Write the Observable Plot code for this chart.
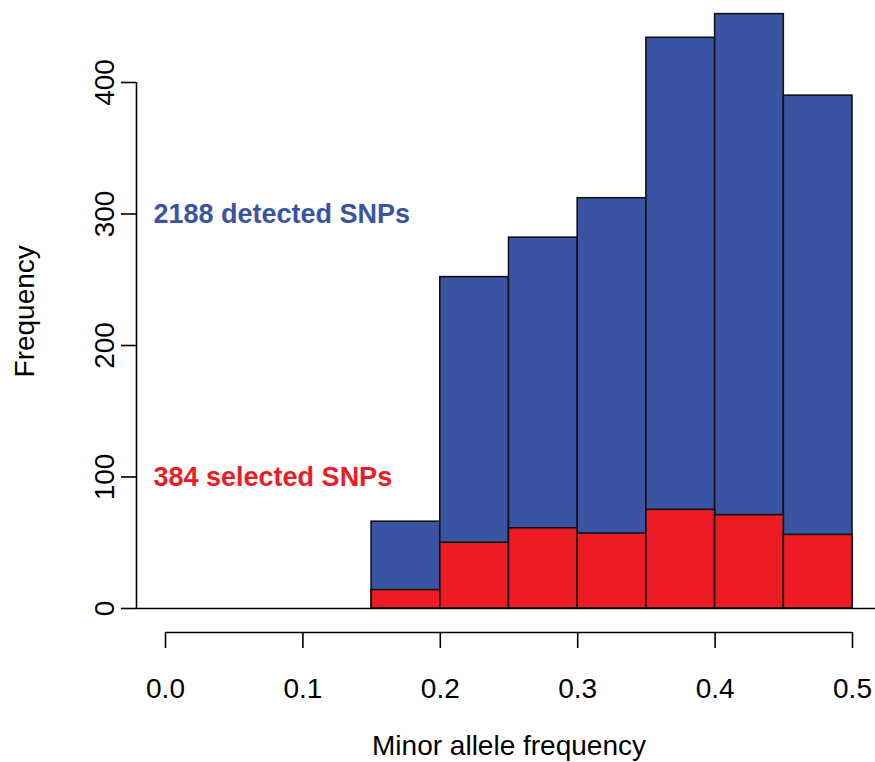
<!DOCTYPE html>
<html><head><meta charset="utf-8">
<script src="https://cdn.jsdelivr.net/npm/d3@7"></script>
<script src="https://cdn.jsdelivr.net/npm/@observablehq/plot@0.6"></script>
<style>body{margin:0;background:#fff}</style>
</head><body><div id="chart"></div>
<script>
const binStart = [0.15, 0.20, 0.25, 0.30, 0.35, 0.40, 0.45];
const binEnd   = [0.20, 0.25, 0.30, 0.35, 0.40, 0.45, 0.50];
const detected = [66, 252, 282, 312, 434, 452, 390];
const selected = [14, 50, 61, 57, 75, 71, 56];
const xTicks = [0, 0.1, 0.2, 0.3, 0.4, 0.5];
const yTicks = [0, 100, 200, 300, 400];
const annotations = ["2188 detected SNPs", "384 selected SNPs"];
const xLabel = "Minor allele frequency";
const yLabel = "Frequency";

const BLUE = "#3A54A4", RED = "#ED1C24";
const axisFont = '"Liberation Sans", Arial, Helvetica, sans-serif';
const boldFont = '"Liberation Sans", Arial, sans-serif';
const FS = 28;

const bins = binStart.map((s, i) => ({x1: s, x2: binEnd[i], detected: detected[i], selected: selected[i]}));

const chart = Plot.plot({
  width: 875, height: 762,
  marginTop: 82, marginBottom: 154, marginLeft: 165, marginRight: 23,
  style: {fontFamily: axisFont, fontSize: FS + "px", background: "#fff", color: "#000"},
  x: {domain: [0, 0.5]},
  y: {domain: [0, 400]},
  marks: [
    Plot.rectY(bins, {x1: "x1", x2: "x2", y: "detected", fill: BLUE, stroke: "#111", strokeWidth: 1.6}),
    Plot.rectY(bins, {x1: "x1", x2: "x2", y: "selected", fill: RED, stroke: "#111", strokeWidth: 1.6}),
    Plot.ruleY([yTicks[0]], {insetLeft: -29, insetRight: -40, stroke: "#000", strokeWidth: 1.6}),
    Plot.ruleX([xTicks[0]], {y1: yTicks[0], y2: yTicks[yTicks.length - 1], dx: -29, stroke: "#000", strokeWidth: 1.6}),
    Plot.axisY({ticks: yTicks, tickSize: 15, dx: -29, tickPadding: 8, tickRotate: -90, label: null, fontSize: FS, strokeWidth: 1.6}),
    Plot.ruleY([yTicks[0]], {x1: xTicks[0], x2: xTicks[xTicks.length - 1], dy: 24, stroke: "#000", strokeWidth: 1.6}),
    Plot.axisX({ticks: xTicks, tickSize: 16, dy: 24, tickPadding: 30, tickFormat: d3.format(".1f"), label: null, fontSize: FS, strokeWidth: 1.6}),
    Plot.text([xLabel], {x: (xTicks[0] + xTicks[xTicks.length - 1]) / 2, y: yTicks[0], dy: 138, fontSize: FS, fill: "#000"}),
    Plot.text([yLabel], {x: xTicks[0], y: 226, dx: -140, rotate: -90, fontSize: FS, fill: "#000"}),
    Plot.text([annotations[0]], {x: xTicks[0], y: 300, dx: -12, textAnchor: "start", fill: BLUE, fontWeight: "bold", fontSize: 27, fontFamily: boldFont}),
    Plot.text([annotations[1]], {x: xTicks[0], y: 100, dx: -12, textAnchor: "start", fill: RED, fontWeight: "bold", fontSize: 27, fontFamily: boldFont})
  ]
});
document.getElementById("chart").append(chart);
</script>
</body></html>
